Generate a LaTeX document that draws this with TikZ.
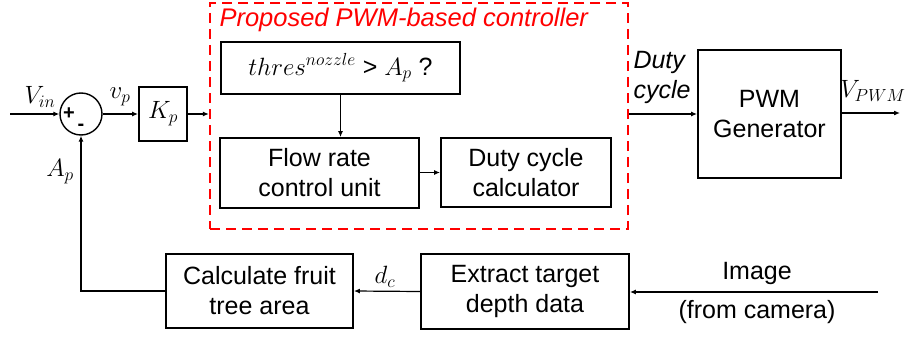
\documentclass[tikz,border=0pt]{standalone}
\usepackage{fix-cm}
\usepackage{amsmath}
\usepackage{fontspec}
\setmainfont{Liberation Sans}
\usepackage{tikz}
\usetikzlibrary{arrows.meta}

\begin{document}
\begin{tikzpicture}[x=1pt,y=-1pt,
    blk/.style={draw, line width=1.8pt, align=center, inner sep=0pt,
      font=\fontsize{25}{30}\selectfont},
    lbl/.style={font=\fontsize{25}{30}\selectfont},
    sig/.style={line width=1.2pt, -{Latex[length=6pt,width=5pt]}},
    wire/.style={line width=1.2pt}]
        \useasboundingbox (0,0) rectangle (907,337);
        % Summing Junction and Gain
        \node[draw, circle, line width=1.4pt, minimum size=42pt, inner sep=0pt] (sum) at (81,114) {};
        \node[font=\fontsize{20}{20}\selectfont\bfseries] (plus) at (69,114) {+};
        \node[font=\fontsize{20}{20}\selectfont\bfseries] (minus) at (81,127) {-};
        \node[blk, minimum width=48pt, minimum height=54pt] (kp) at (163,114) {$K_p$};
        \coordinate (vin) at (10,114);
        % Proposed Controller
        \node[draw=red, dash pattern=on 10pt off 6pt, line width=2.2pt,
          minimum width=418pt, minimum height=226pt] (ctrl) at (419,116) {};
        \node[lbl, text=red, anchor=west, font=\fontsize{25.5}{30}\selectfont\itshape] (title) at (216,20) {Proposed PWM-based controller};
        \node[blk, minimum width=239pt, minimum height=52pt] (thres) at (340.5,68) {$thres^{nozzle}$ > $A_p$ ?};
        \node[blk, minimum width=199pt, minimum height=70pt] (flow) at (319.5,173) {Flow rate\\control unit};
        \node[blk, minimum width=170pt, minimum height=69pt] (duty) at (526,172.5) {Duty cycle\\calculator};
        % PWM Generator
        \node[blk, minimum width=143pt, minimum height=128pt] (pwm) at (769.5,114) {PWM\\Generator};
        \coordinate (vout) at (900,113);
        % Vision Feedback
        \node[blk, minimum width=187pt, minimum height=74pt] (calc) at (259.5,291) {Calculate fruit\\tree area};
        \node[blk, minimum width=208pt, minimum height=75pt] (extract) at (525,291.5) {Extract target\\depth data};
        \coordinate (img) at (878,292);
        %
        % Signal Labels:
        \node[lbl] (vinlbl) at (40,97) {$V_{in}$};
        \node[lbl] (vplbl) at (120,97) {$v_p$};
        \node[lbl] (aplbl) at (60,172) {$A_p$};
        \node[lbl] (dclbl) at (385,277) {$d_c$};
        \node[lbl] (vpwmlbl) at (873,91) {$V_{PWM}$};
        \node[lbl, anchor=west, align=left, font=\fontsize{25}{30}\selectfont\itshape] (dutylbl) at (630,77) {Duty\\cycle};
        \node[lbl] (imglbl) at (757,273) {Image};
        \node[lbl] (camlbl) at (757,312) {(from camera)};
        %
        % Forward Path:
        \draw[sig] (vin) -- (sum.west);
        \draw[sig] (sum.east) -- (kp.west);
        \draw[sig] (kp.east) -- (kp.east -| ctrl.west);
        \draw[sig] (thres.south) -- (thres.south |- flow.north);
        \draw[sig] (flow.east |- duty.west) -- (duty.west);
        \draw[sig] (ctrl.east |- pwm.west) -- (pwm.west);
        \draw[sig] (pwm.east |- vout) -- (vout);
        % Feedback Path:
        \draw[sig] (img) -- (img -| extract.east);
        \draw[sig] (extract.west) -- (calc.east);
        \draw[sig] (calc.west) -| (sum.south);
\end{tikzpicture}
\end{document}
